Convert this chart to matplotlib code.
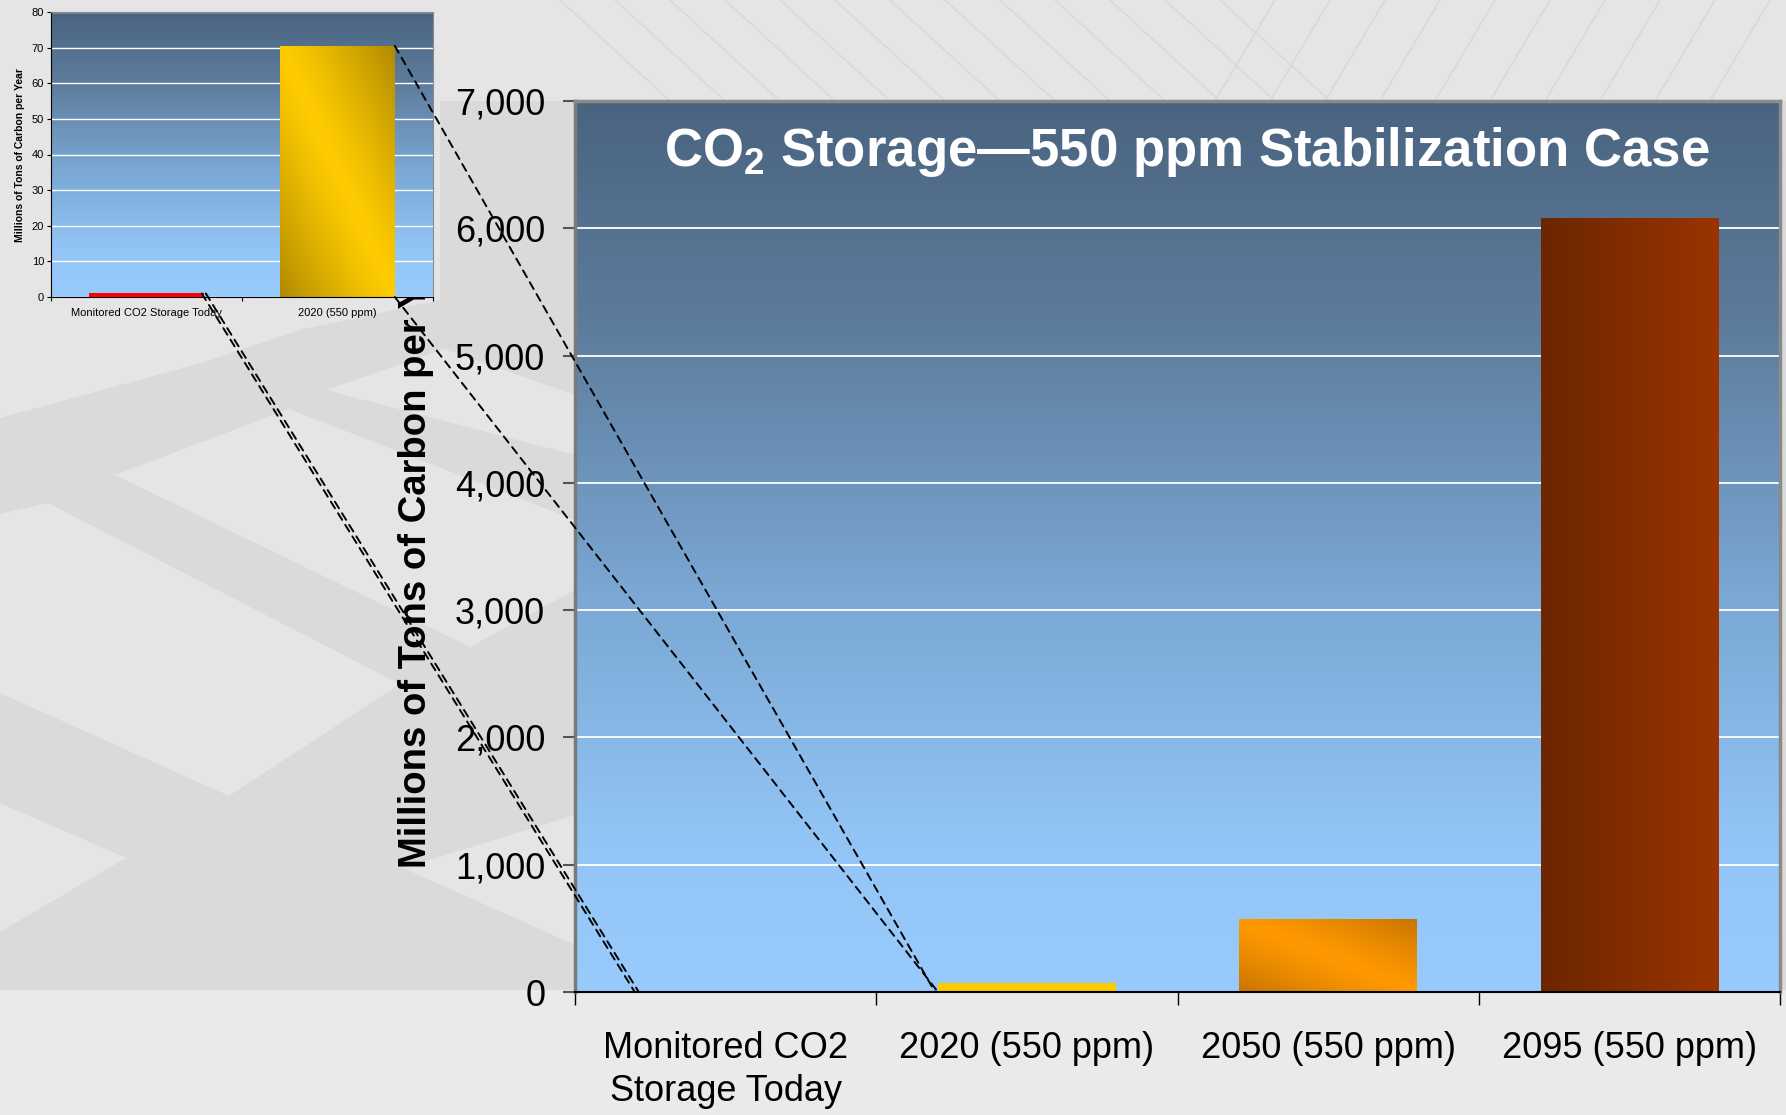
import numpy as np
import matplotlib.pyplot as plt
from matplotlib.colors import LinearSegmentedColormap
from matplotlib.patches import ConnectionPatch, Rectangle, Polygon
from matplotlib.ticker import FuncFormatter

plt.rcParams['font.family'] = ['Liberation Sans', 'DejaVu Sans']
plt.rcParams['mathtext.fontset'] = 'custom'
plt.rcParams['mathtext.rm'] = 'Liberation Sans:bold'
plt.rcParams['mathtext.it'] = 'Liberation Sans:bold'

# main chart (millions of tons of carbon per year)
categories = ['Monitored CO2\nStorage Today', '2020 (550 ppm)', '2050 (550 ppm)', '2095 (550 ppm)']
storage = [1, 70, 573, 6080]
main_yticks = np.arange(0, 7001, 1000)

# zoomed-in inset chart
inset_categories = ['Monitored CO2 Storage Today', '2020 (550 ppm)']
inset_storage = [1, 70.5]
inset_yticks = np.arange(0, 81, 10)

W, H = 1786, 1115
PLATE = '#e5e5e5'


def px_box(left, top, right, bottom):
    return [left / W, 1 - bottom / H, (right - left) / W, (bottom - top) / H]


def fpt(x, y):
    return (x / W, 1 - y / H)


def axes_gradient(ax, xlim, ylim):
    cmap = LinearSegmentedColormap.from_list('bg', [
        (0.0, '#98cbfc'), (0.15, '#93c6f7'), (0.45, '#7aa7d3'),
        (0.75, '#5d7c9c'), (1.0, '#4a6480')])
    g = np.linspace(0, 1, 256)[:, None]
    ax.imshow(g, extent=[*xlim, *ylim], origin='lower', cmap=cmap,
              aspect='auto', zorder=0.1, interpolation='bilinear')


def bar_gradient(ax, patch, kind, dark, light):
    x0, y0 = patch.get_x(), patch.get_y()
    w, h = patch.get_width(), patch.get_height()
    p = np.linspace(0, 1, 200)[None, :]
    r = np.linspace(0, 1, 200)[:, None]
    if kind == 'diag':
        val = np.abs(p + r - 1) ** 1.2
    else:
        val = (1 - p) + 0 * r
    cmap = LinearSegmentedColormap.from_list('bar', [light, dark])
    im = ax.imshow(val, extent=[x0, x0 + w, y0, y0 + h], origin='lower',
                   cmap=cmap, vmin=0, vmax=1, aspect='auto', zorder=2.5,
                   interpolation='bilinear')
    im.set_clip_path(patch)


fig = plt.figure(figsize=(W / 100, H / 100), dpi=100, facecolor='#dadada')

# slide background: light plates, textured top band, plain lower band
plates = [
    [(0, 0), (440, 0), (440, 300), (300, 330), (205, 362), (0, 418)],
    [(0, 514), (48, 503), (400, 684), (229, 796), (0, 693)],
    [(115, 475), (289, 409), (575, 520), (575, 590), (470, 647)],
    [(326, 390), (444, 349), (575, 395), (575, 455)],
    [(0, 803), (126, 858), (0, 932)],
    [(403, 868), (575, 815), (575, 945)],
    [(440, 0), (1786, 0), (1786, 101), (440, 101)],
]
for pts in plates:
    fig.add_artist(Polygon([fpt(x, y) for x, y in pts], closed=True,
                           transform=fig.transFigure, facecolor=PLATE,
                           edgecolor='none', zorder=-2))
for x0 in range(560, 1786, 55):
    lean = 110 if x0 < 1250 else -60
    fig.add_artist(plt.Line2D([x0 / W, (x0 + lean) / W], [1, 1 - 101 / H],
                              transform=fig.transFigure, color='#d9d9d9',
                              lw=1.2, zorder=-1.5))
fig.add_artist(Rectangle((0, 0), 1, (H - 990) / H, transform=fig.transFigure,
                         facecolor='#eaeaea', edgecolor='none', zorder=-1))

# ---- main chart ----
ax = fig.add_axes(px_box(575, 101, 1780, 992))
x = np.arange(len(categories))
bar_w = 0.59
axes_gradient(ax, (-0.5, len(categories) - 0.5), (0, 7000))
bars = ax.bar(x, storage, width=bar_w, color=['#ff0000', '#ffcc00', '#ff9900', '#993300'],
              zorder=2)
bar_gradient(ax, bars[2], 'diag', '#c87400', '#ff9900')
bar_gradient(ax, bars[3], 'horiz', '#6c2600', '#9a3400')

ax.set_xlim(-0.5, len(categories) - 0.5)
ax.set_ylim(0, 7000)
ax.set_yticks(main_yticks)
ax.yaxis.set_major_formatter(FuncFormatter(lambda v, _: f'{v:,.0f}'))
ax.yaxis.grid(True, color='white', lw=1.3)
ax.set_axisbelow(True)
ax.set_xticks(np.arange(-0.5, len(categories), 1))
ax.set_xticklabels([])
ax.set_xticks(x, minor=True)
ax.set_xticklabels(categories, minor=True, fontsize=26, linespacing=1.3)
ax.tick_params(axis='x', which='major', length=9, width=1, color='black')
ax.tick_params(axis='x', which='minor', length=0, pad=28)
ax.tick_params(axis='y', labelsize=26, length=8.5, width=1.5, color='#555555', pad=13)
ax.spines['left'].set_color('#7a7a7a')
ax.spines['left'].set_linewidth(2.5)
ax.spines['bottom'].set_color('black')
ax.spines['bottom'].set_linewidth(1.5)
for s in ('top', 'right'):
    ax.spines[s].set_color('#8a8a8a')
    ax.spines[s].set_linewidth(2.5)

ax.text(0.508, 0.943, 'CO$_2$ Storage\u2014550 ppm Stabilization Case', transform=ax.transAxes,
        ha='center', va='center', color='white', fontsize=38, fontweight='bold', zorder=5)

# y label of the main chart; its top end runs behind the inset chart
fig.text(416 / W, 1 - 548 / H, 'Millions of Tons of Carbon per Year', rotation=90,
         ha='center', va='center', fontsize=27.5, fontweight='bold', zorder=2)

# ---- inset (zoom of the first two categories) ----
ax_in = fig.add_axes(px_box(51, 12, 433, 297))
ax_in.set_zorder(4)
xi = np.arange(len(inset_categories))
inset_w = 0.6
axes_gradient(ax_in, (-0.5, len(inset_categories) - 0.5), (0, 80))
ibars = ax_in.bar(xi, inset_storage, width=inset_w, color=['#ff0000', '#ffcc00'], zorder=2)
bar_gradient(ax_in, ibars[1], 'diag', '#b08a00', '#ffcc00')
ax_in.set_xlim(-0.5, len(inset_categories) - 0.5)
ax_in.set_ylim(0, 80)
ax_in.set_yticks(inset_yticks)
ax_in.yaxis.grid(True, color='white', lw=1)
ax_in.set_axisbelow(True)
ax_in.set_xticks(np.arange(-0.5, len(inset_categories), 1))
ax_in.set_xticklabels([])
ax_in.set_xticks(xi, minor=True)
ax_in.set_xticklabels(inset_categories, minor=True, fontsize=8)
ax_in.tick_params(axis='x', which='major', length=3)
ax_in.tick_params(axis='x', which='minor', length=0, pad=8)
ax_in.tick_params(axis='y', labelsize=8, length=3, pad=2)
ax_in.set_ylabel('Millions of Tons of Carbon per Year', fontsize=7.5, fontweight='bold',
                 labelpad=5)
for s in ('top', 'right'):
    ax_in.spines[s].set_color('#8a8a8a')

# ---- dashed leader lines from inset bars to main bars ----
dash = dict(linestyle=(0, (4, 3)), color='black', lw=1.4, zorder=6)
off_in, off_main = 4 / 191, 4 / 301  # parallel double line, about 4 px apart
leaders = [
    ((xi[0] + inset_w / 2 - off_in / 2, inset_storage[0]), (x[0] - bar_w / 2 - off_main / 2, 0)),
    ((xi[0] + inset_w / 2 + off_in / 2, inset_storage[0]), (x[0] - bar_w / 2 + off_main / 2, 0)),
    ((xi[1] + inset_w / 2, inset_storage[1]), (x[1] - bar_w / 2 - 0.01, 0)),
    ((xi[1] + inset_w / 2, 0), (x[1] - bar_w / 2, 0)),
]
for a, b in leaders:
    fig.add_artist(ConnectionPatch(xyA=a, coordsA=ax_in.transData,
                                   xyB=b, coordsB=ax.transData, **dash))

fig.savefig('out.png', dpi=100, facecolor=fig.get_facecolor())
